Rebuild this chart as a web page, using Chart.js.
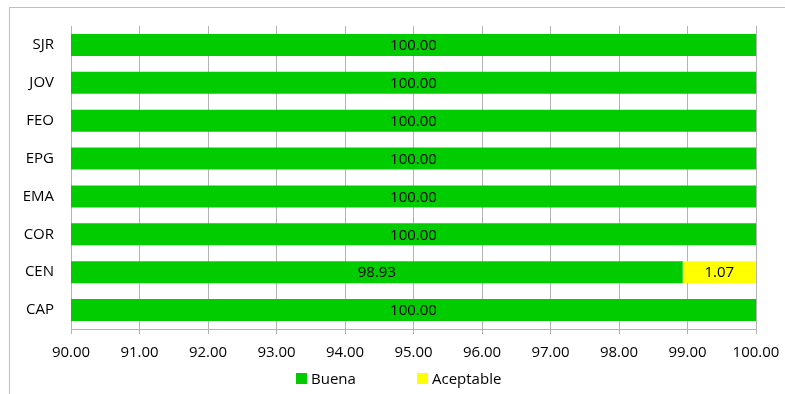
<!DOCTYPE html>
<html>
<head>
<meta charset="utf-8">
<script src="https://cdn.jsdelivr.net/npm/chart.js@4/dist/chart.umd.min.js"></script>
<style>
  body { margin: 0; background: #fff; }
  #wrap { position: relative; width: 785px; height: 394px; }
  #legend { position: absolute; top: 368px; left: 0; width: 785px; height: 20px;
            font-family: "Open Sans", sans-serif; font-size: 15px; color: #000; }
  #legend span { position: absolute; top: 0; display: inline-flex; align-items: center; }
  #legend i { display: inline-block; width: 11px; height: 11px; margin-right: 4px; }
</style>
</head>
<body>
<div id="wrap">
  <canvas id="myChart" width="785" height="394"></canvas>
  <div id="legend"></div>
</div>
<script>
const categories = ["SJR", "JOV", "FEO", "EPG", "EMA", "COR", "CEN", "CAP"];
const buena = [100, 100, 100, 100, 100, 100, 98.93, 100];
const aceptable = [0, 0, 0, 0, 0, 0, 1.07, 0];
const seriesNames = ["Buena", "Aceptable"];
const seriesColors = ["#00CC00", "#FFFF00"];
const legendLeft = [296, 417];

const FONT = "'Open Sans', sans-serif";

// frame around the whole chart
const framePlugin = {
  id: "frame",
  beforeDraw(chart) {
    const c = chart.ctx;
    c.save();
    c.strokeStyle = "#bfbfbf";
    c.lineWidth = 1;
    c.strokeRect(9.5, 7.5, 900, 500);
    c.restore();
  },
};

// value labels centred on the visible part of each bar
const labelPlugin = {
  id: "barLabels",
  afterDatasetsDraw(chart) {
    const c = chart.ctx;
    const area = chart.chartArea;
    c.save();
    c.font = "15px " + FONT;
    c.fillStyle = "#000";
    c.textAlign = "center";
    c.textBaseline = "middle";
    chart.data.datasets.forEach((ds, i) => {
      chart.getDatasetMeta(i).data.forEach((bar, j) => {
        if (!ds.data[j]) return;
        const left = Math.max(Math.min(bar.x, bar.base), area.left);
        const right = Math.min(Math.max(bar.x, bar.base), area.right);
        c.fillText(ds.data[j].toFixed(2), (left + right) / 2, bar.y + 1);
      });
    });
    c.restore();
  },
};

const ctx = document.getElementById("myChart").getContext("2d");
new Chart(ctx, {
  type: "bar",
  data: {
    labels: categories,
    datasets: [
      { label: seriesNames[0], data: buena, backgroundColor: seriesColors[0] },
      { label: seriesNames[1], data: aceptable, backgroundColor: seriesColors[1] },
    ],
  },
  options: {
    indexAxis: "y",
    responsive: false,
    animation: false,
    barPercentage: 0.58,
    categoryPercentage: 1,
    layout: { padding: { left: 0, right: 29, top: 26, bottom: 33 } },
    plugins: { legend: { display: false }, tooltip: { enabled: false } },
    scales: {
      x: {
        stacked: true,
        min: 90,
        max: 100,
        ticks: {
          stepSize: 1,
          color: "#000",
          font: { family: FONT, size: 15 },
          padding: 10,
          maxRotation: 0,
          callback: (v) => v.toFixed(2),
        },
        grid: { color: "#b3b3b3", tickLength: 5 },
        border: { color: "#b3b3b3" },
        afterFit: (s) => { s.height = 32; s.paddingLeft = 0; s.paddingRight = 0; },
      },
      y: {
        stacked: true,
        ticks: { color: "#000", font: { family: FONT, size: 15 }, padding: 17 },
        grid: { display: false, drawTicks: false },
        border: { display: false },
        afterFit: (s) => { s.width = 71; },
      },
    },
  },
  plugins: [framePlugin, labelPlugin],
});

const legend = document.getElementById("legend");
seriesNames.forEach((name, i) => {
  const item = document.createElement("span");
  item.style.left = legendLeft[i] + "px";
  item.innerHTML = '<i style="background:' + seriesColors[i] + '"></i>' + name;
  legend.appendChild(item);
});
</script>
</body>
</html>
